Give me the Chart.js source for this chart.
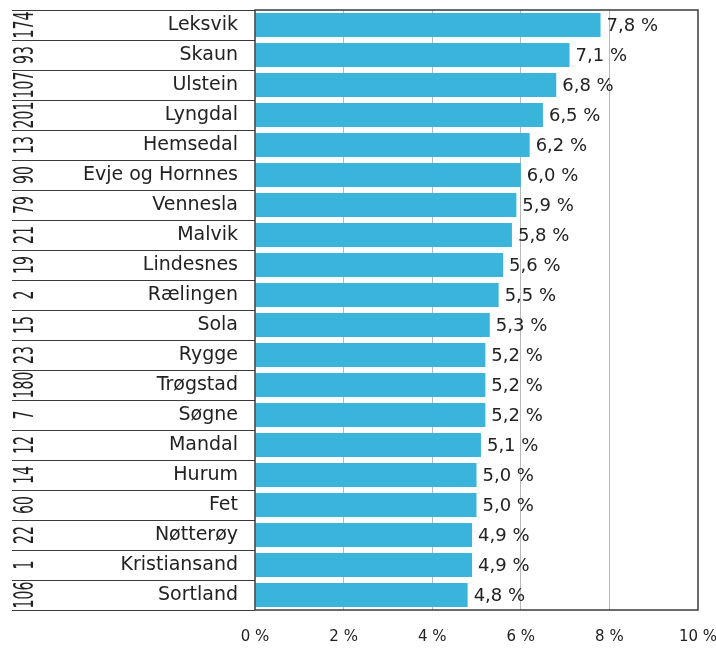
<!DOCTYPE html>
<html>
<head>
<meta charset="utf-8">
<script src="https://cdn.jsdelivr.net/npm/chart.js@4"></script>
<style>
html,body{margin:0;padding:0;background:#fff;}
canvas{display:block;}
</style>
</head>
<body>
<canvas id="c" width="716" height="648"></canvas>
<script>
const categories = ['Leksvik','Skaun','Ulstein','Lyngdal','Hemsedal','Evje og Hornnes','Vennesla','Malvik','Lindesnes','Rælingen','Sola','Rygge','Trøgstad','Søgne','Mandal','Hurum','Fet','Nøtterøy','Kristiansand','Sortland'];
const ranks = ['174','93','107','201','13','90','79','21','19','2','15','23','180','7','12','14','60','22','1','106'];
const values = [7.8,7.1,6.8,6.5,6.2,6.0,5.9,5.8,5.6,5.5,5.3,5.2,5.2,5.2,5.1,5.0,5.0,4.9,4.9,4.8];
const xTicks = [0,2,4,6,8,10];

const FONT = 'DejaVu Sans';
const TEXT = '#222222';
const LINE = '#3a3a3a';

const fmt = v => v.toFixed(1).replace('.', ',') + ' %';

const extras = {
  id: 'extras',
  afterDraw(chart) {
    const {ctx, chartArea: a, scales: {y}} = chart;
    ctx.save();
    ctx.strokeStyle = LINE;
    ctx.lineWidth = 1;
    for (let i = 0; i <= categories.length; i++) {
      const yy = Math.round(y.getPixelForValue(i - 0.5)) + 0.5;
      ctx.beginPath();
      ctx.moveTo(12, yy);
      ctx.lineTo(a.left, yy);
      ctx.stroke();
    }
    ctx.lineWidth = 1.5;
    ctx.strokeRect(a.left, a.top, a.right - a.left, a.bottom - a.top);
    ctx.fillStyle = TEXT;
    ctx.font = '27px "' + FONT + '"';
    ctx.textAlign = 'center';
    ctx.textBaseline = 'alphabetic';
    ranks.forEach((r, i) => {
      const yc = y.getPixelForValue(i);
      ctx.save();
      ctx.translate(33, yc);
      ctx.rotate(-Math.PI / 2);
      ctx.scale(0.52, 1);
      ctx.fillText(r, 0, 0);
      ctx.restore();
    });
    ctx.font = '18px "' + FONT + '"';
    ctx.textAlign = 'left';
    ctx.textBaseline = 'middle';
    const meta = chart.getDatasetMeta(0);
    meta.data.forEach((bar, i) => {
      ctx.fillText(fmt(values[i]), bar.x + 6, bar.y + 1);
    });
    ctx.restore();
  }
};

const zeroPad = s => { s.paddingLeft = 0; s.paddingRight = 0; s.paddingTop = 0; s.paddingBottom = 0; };

new Chart(document.getElementById('c'), {
  type: 'bar',
  data: {
    labels: categories,
    datasets: [{
      data: values,
      backgroundColor: '#3bb4dc',
      borderWidth: 0,
      barPercentage: 0.8,
      categoryPercentage: 1.0
    }]
  },
  options: {
    indexAxis: 'y',
    responsive: false,
    animation: false,
    events: [],
    layout: {padding: {top: 10, right: 18, bottom: 0, left: 0}},
    plugins: {legend: {display: false}, tooltip: {enabled: false}},
    scales: {
      x: {
        min: 0, max: 10,
        afterBuildTicks: s => { s.ticks = xTicks.map(v => ({value: v})); },
        afterFit: s => { s.height = 38; zeroPad(s); },
        border: {display: false},
        grid: {
          drawTicks: false,
          color: c => (c.tick && (c.tick.value === 0 || c.tick.value === 10)) ? 'rgba(0,0,0,0)' : '#b8b8b8',
          lineWidth: 1
        },
        ticks: {
          padding: 18,
          color: TEXT,
          font: {family: FONT, size: 15},
          callback: v => v + ' %'
        }
      },
      y: {
        afterFit: s => { s.width = 255; zeroPad(s); },
        border: {display: false},
        grid: {display: false, drawTicks: false},
        ticks: {
          padding: 17,
          color: TEXT,
          font: {family: FONT, size: 19}
        }
      }
    }
  },
  plugins: [extras]
});
</script>
</body>
</html>
